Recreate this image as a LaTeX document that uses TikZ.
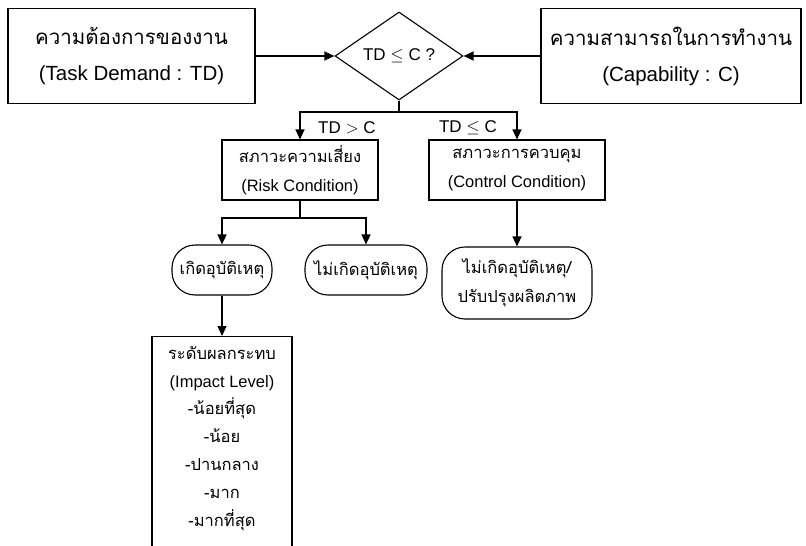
\documentclass[tikz,border=0pt]{standalone}
\usepackage{fontspec}
\setmainfont{Liberation Sans}
\newfontfamily\thai[Script=Thai]{Loma}
\usetikzlibrary{shapes.geometric,arrows.meta}
\tikzset{
  box/.style={draw, line width=1.1pt, rectangle, inner sep=0pt, align=center},
  pill/.style={draw, line width=1.1pt, rectangle, rounded corners=23pt, inner sep=0pt, align=center},
  dec/.style={draw, line width=1.1pt, diamond, inner sep=0pt, minimum width=128pt, minimum height=88pt},
  con/.style={line width=1.1pt},
  arr/.style={line width=1.1pt, -{Triangle[length=10pt,width=9pt]}},
  big/.style={font=\fontsize{20.5}{36}\selectfont},
  mid/.style={font=\fontsize{16.5}{29}\selectfont},
  lbl/.style={font=\fontsize{17}{20}\selectfont, inner sep=0pt},
}
\begin{document}
\begin{tikzpicture}[x=1pt,y=-1pt]
\useasboundingbox (0,0) rectangle (806,546);
\clip (0,0) rectangle (806,546);
\node[box,big,minimum width=247pt,minimum height=95pt] (td) at (131.5,56)
  {{\thai ความต้องการของงาน}\\(Task Demand : TD)};
\node[box,big,minimum width=260pt,minimum height=95pt] (cap) at (671,56)
  {{\thai ความสามารถในการทำงาน}\\(Capability : C)};
\node[dec,font=\fontsize{17}{20}\selectfont] (dia) at (399,56) {TD $\leq$ C ?};
\node[box,mid,minimum width=156pt,minimum height=60pt] (risk) at (300,170)
  {{\thai สภาวะความเสี่ยง}\\(Risk Condition)};
\node[box,mid,minimum width=176pt,minimum height=60pt] (ctrl) at (517,170)
  {{\thai สภาวะการควบคุม}\\(Control Condition)};
\node[pill,mid,minimum width=100pt,minimum height=50pt] (acc) at (222,270)
  {\thai เกิดอุบัติเหตุ};
\node[pill,mid,minimum width=122pt,minimum height=50pt] (noacc) at (366,270)
  {\thai ไม่เกิดอุบัติเหตุ};
\node[pill,mid,minimum width=150pt,minimum height=72pt] (noacc2) at (517,283)
  {\thai ไม่เกิดอุบัติเหตุ/\\\thai ปรับปรุงผลิตภาพ};
\node[box,minimum width=140pt,minimum height=220pt,anchor=north] (impact) at (222,336) {};
\node[align=center,inner sep=0pt,anchor=north,font=\fontsize{16.5}{27.8}\selectfont] (impacttext) at (222,346)
  {{\thai ระดับผลกระทบ}\\(Impact Level)\\{\thai -น้อยที่สุด}\\{\thai -น้อย}\\{\thai -ปานกลาง}\\{\thai -มาก}\\{\thai -มากที่สุด}};
\node[lbl] (lgt) at (347,128) {TD $>$ C};
\node[lbl] (lle) at (468,128) {TD $\leq$ C};
\draw[arr] (td.east) -- (dia.west);
\draw[arr] (cap.west) -- (dia.east);
\coordinate (j1) at (399,112);
\draw[con] (dia.south) -- (j1);
\draw[arr] (j1) -| (risk.north);
\draw[arr] (j1) -| (ctrl.north);
\coordinate (j2) at (300,218);
\draw[con] (risk.south) -- (j2);
\draw[arr] (j2) -| (acc.north);
\draw[arr] (j2) -| (noacc.north);
\draw[arr] (ctrl.south) -- (noacc2.north);
\draw[arr] (acc.south) -- (impact.north);
\end{tikzpicture}
\end{document}
